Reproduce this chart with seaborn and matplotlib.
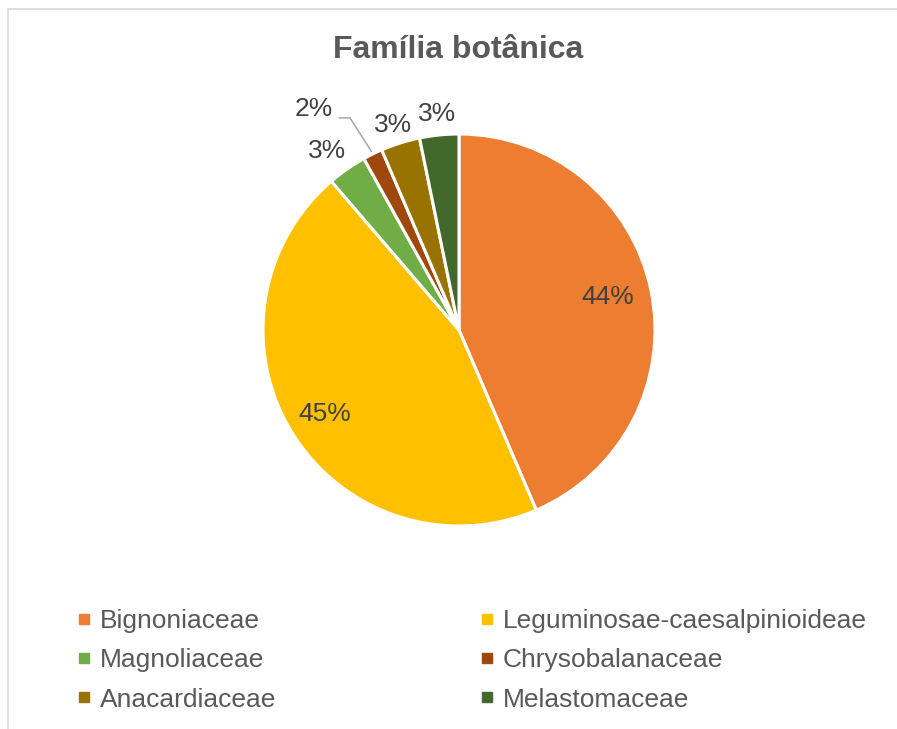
import numpy as np
import matplotlib
matplotlib.use("Agg")
import matplotlib.pyplot as plt
from matplotlib.lines import Line2D
import seaborn as sns

# ---- data ----
families = ["Bignoniaceae", "Leguminosae-caesalpinioideae", "Magnoliaceae",
            "Chrysobalanaceae", "Anacardiaceae", "Melastomaceae"]
counts = [27, 28, 2, 1, 2, 2]
colors = ["#ED7D31", "#FFC000", "#70AD47", "#9E480E", "#997300", "#43682B"]
title = "Família botânica"

sns.set_theme(style="white")
plt.rcParams["font.family"] = ["Liberation Sans", "DejaVu Sans"]

W, H = 897, 729
fig = plt.figure(figsize=(W / 100, H / 100), dpi=100)
fig.patch.set_facecolor("white")

# pie axes: center (459,330), radius 196 px
cx, cy, R = 459, 330, 196
ax = fig.add_axes([(cx - R) / W, (H - cy - R) / H, 2 * R / W, 2 * R / H])

total = sum(counts)
wedges, _ = ax.pie(counts, colors=colors, startangle=90, counterclock=False,
                   radius=1.0, wedgeprops=dict(edgecolor="white", linewidth=2.2))
ax.set_xlim(-1, 1)
ax.set_ylim(-1, 1)
ax.set_aspect("equal")
ax.axis("off")

pcts = [f"{round(100 * c / total):.0f}%" for c in counts]
# label placement (radius, angle offset in degrees)
place = [(0.78, 1.0), (0.81, 0), (1.135, 1.5), (1.35, 7.2), (1.10, 0.5), (1.11, 0)]
for w, p, (r, off) in zip(wedges, pcts, place):
    mid = np.deg2rad((w.theta1 + w.theta2) / 2 + off)
    ax.text(r * np.cos(mid), r * np.sin(mid), p, ha="center", va="center",
            fontsize=19, color="#404040", clip_on=False)

# leader line for the small Chrysobalanaceae slice
w = wedges[3]
mid = np.deg2rad((w.theta1 + w.theta2) / 2)
end = (1.015 * np.cos(mid), 1.015 * np.sin(mid))
ax.add_line(Line2D([-0.612, -0.556, end[0]], [1.082, 1.082, end[1]],
                   color="#A6A6A6", lw=1.1, clip_on=False))

# title
fig.text(458 / W, 1 - 50 / H, title, ha="center", va="center", fontsize=23,
         fontweight="bold", color="#595959")

# legend (row-wise order like Excel)
order = [0, 2, 4, 1, 3, 5]
handles = [Line2D([], [], marker="s", linestyle="none", markersize=6.8,
                  markerfacecolor=colors[i], markeredgecolor=colors[i]) for i in order]
labels = [families[i] for i in order]
leg = fig.legend(handles, labels, ncol=2, loc="upper left",
                 bbox_to_anchor=(76 / W, 1 - 609 / H), frameon=False,
                 fontsize=19, labelcolor="#595959", handlelength=0.6,
                 handletextpad=0.3, columnspacing=7.7, labelspacing=0.58,
                 borderpad=0, borderaxespad=0)

# chart border (cropped on right and bottom)
fig.add_artist(Line2D([8 / W, 8 / W], [1 - 9 / H, 0], transform=fig.transFigure,
                      color="#D9D9D9", lw=1.2))
fig.add_artist(Line2D([8 / W, 1], [1 - 9 / H, 1 - 9 / H], transform=fig.transFigure,
                      color="#D9D9D9", lw=1.2))

fig.savefig("out.png", dpi=100, facecolor="white")
